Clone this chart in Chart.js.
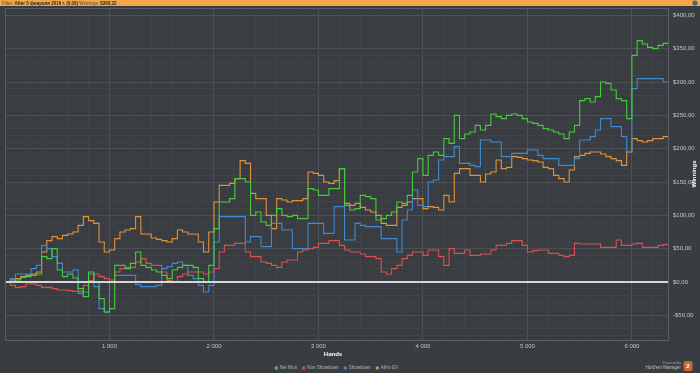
<!DOCTYPE html>
<html lang="en">
<head>
    <meta charset="UTF-8">
    <title>Winnings graph</title>
    <script src="https://cdn.jsdelivr.net/npm/chart.js"></script>
    <style>
        html, body { margin: 0; padding: 0; background: #3a3d41; overflow: hidden; }
        canvas { display: block; }
    </style>
</head>
<body>
    <canvas id="winningsChart" width="700" height="373"></canvas>

    <script>
        // Hands played (x) and cumulative winnings in $ for each line
        const hands = [
            0, 50, 100, 150, 200, 250, 300, 350, 400, 450, 500, 550, 600, 650, 700, 750,
            800, 850, 900, 950, 1000, 1050, 1100, 1150, 1200, 1250, 1300, 1350, 1400, 1450, 1500, 1550,
            1600, 1650, 1700, 1750, 1800, 1850, 1900, 1950, 2000, 2050, 2100, 2150, 2200, 2250, 2300, 2350,
            2400, 2450, 2500, 2550, 2600, 2650, 2700, 2750, 2800, 2850, 2900, 2950, 3000, 3050, 3100, 3150,
            3200, 3250, 3300, 3350, 3400, 3450, 3500, 3550, 3600, 3650, 3700, 3750, 3800, 3850, 3900, 3950,
            4000, 4050, 4100, 4150, 4200, 4250, 4300, 4350, 4400, 4450, 4500, 4550, 4600, 4650, 4700, 4750,
            4800, 4850, 4900, 4950, 5000, 5050, 5100, 5150, 5200, 5250, 5300, 5350, 5400, 5450, 5500, 5550,
            5600, 5650, 5700, 5750, 5800, 5850, 5900, 5950, 6000, 6050, 6100, 6150, 6200, 6250, 6300, 6350
        ];

        const netWon = [
            0, 0, 3, 7, 8, 10, 12, 38, 35, 50, 18, 8, 12, 6, -10, -22,
            15, 0, -25, -45, -40, 25, 25, 20, 28, 45, 25, 22, 18, 15, 10, 5,
            18, 22, 25, 25, 22, 5, 0, 25, 80, 120, 120, 125, 155, 155, 150, 100,
            105, 90, 85, 100, 110, 100, 98, 100, 95, 95, 140, 138, 130, 130, 140, 140,
            170, 115, 108, 110, 130, 128, 125, 93, 95, 100, 105, 120, 118, 130, 165, 185,
            160, 190, 195, 190, 215, 208, 250, 215, 222, 225, 235, 228, 235, 252, 248, 245,
            250, 252, 250, 245, 240, 238, 235, 230, 228, 225, 222, 215, 225, 235, 272, 275,
            270, 278, 300, 298, 288, 275, 272, 245, 340, 362, 357, 352, 350, 355, 358, 360
        ];

        const nonShowdown = [
            0, -5, -8, -7, -3, -3, -5, -8, -8, -10, -12, -12, -13, -14, -14, -5,
            2, 12, 8, 5, 3, 15, 20, 22, 22, 30, 35, 28, 25, 25, 15, 2,
            0, 8, 12, 15, 15, 15, 12, 15, 20, 45, 55, 55, 58, 58, 45, 38,
            38, 30, 28, 25, 22, 30, 33, 33, 45, 48, 50, 52, 58, 58, 62, 62,
            55, 48, 45, 45, 42, 38, 38, 35, 15, 12, 20, 25, 35, 40, 45, 45,
            40, 48, 48, 38, 25, 50, 43, 43, 48, 40, 40, 42, 42, 48, 55, 55,
            58, 62, 62, 55, 45, 47, 48, 48, 43, 43, 40, 38, 40, 58, 57, 57,
            57, 57, 52, 52, 52, 63, 55, 55, 57, 58, 52, 52, 52, 55, 56, 63
        ];

        const showdown = [
            0, 5, 12, 12, 12, 20, 25, 55, 50, 38, 28, 15, 15, 18, -17, -15,
            12, -7, -40, -45, 0, 10, 10, 10, 10, -4, -7, -7, -7, -5, 20, 23,
            28, 30, 25, 10, 5, -5, -15, -5, 60, 98, 98, 98, 98, 98, 60, 68,
            68, 53, 53, 88, 88, 78, 78, 50, 50, 50, 88, 88, 88, 73, 73, 113,
            113, 63, 63, 88, 85, 83, 83, 83, 65, 65, 65, 45, 93, 108, 138, 115,
            113, 150, 153, 183, 188, 188, 203, 178, 178, 175, 173, 213, 213, 210, 210, 188,
            188, 193, 193, 193, 198, 198, 190, 185, 185, 185, 175, 175, 175, 185, 213, 213,
            218, 228, 245, 245, 233, 233, 218, 195, 290, 305, 305, 305, 305, 305, 300, 300
        ];

        const allInEV = [
            0, 3, 5, 8, 10, 12, 15, 45, 62, 68, 65, 70, 72, 75, 85, 98,
            92, 88, 60, 45, 48, 65, 75, 78, 80, 98, 72, 72, 66, 64, 62, 60,
            65, 78, 75, 72, 72, 60, 45, 75, 120, 145, 145, 148, 155, 182, 178, 133,
            125, 125, 100, 80, 125, 123, 120, 122, 122, 125, 165, 163, 160, 150, 148, 152,
            170, 118, 115, 118, 112, 108, 105, 100, 88, 85, 85, 112, 115, 120, 125, 125,
            110, 113, 112, 108, 130, 120, 163, 170, 170, 160, 160, 150, 162, 165, 183, 170,
            172, 188, 187, 185, 183, 182, 180, 172, 170, 160, 155, 150, 168, 188, 190, 193,
            195, 195, 192, 188, 185, 182, 175, 195, 215, 212, 210, 212, 215, 215, 218, 218
        ];

        const seriesNames = ['Net Won', 'Non Showdown', 'Showdown', 'All-In EV'];
        const seriesColors = ['#46cc38', '#d9504c', '#3f8ad0', '#e39238'];
        const handTicks = [1000, 2000, 3000, 4000, 5000, 6000];
        const winTicks = [-50, 0, 50, 100, 150, 200, 250, 300, 350, 400];

        const FONT = "'Liberation Sans', 'DejaVu Sans', sans-serif";
        const BG = '#393c40';
        const GRID_MAJOR = '#4d5054';
        const GRID_MINOR = '#3f4246';

        function fmtHands(v) {
            return String(v).replace(/\B(?=(\d{3})+(?!\d))/g, ' ');
        }
        function fmtMoney(v) {
            return (v < 0 ? '-$' : '$') + Math.abs(v).toFixed(2).replace('.', ',');
        }

        // minor grid every 200 hands / $10
        const xGrid = [];
        for (let h = 200; h <= 6200; h += 200) xGrid.push(h);
        const yGrid = [];
        for (let w = -80; w <= 410; w += 10) yGrid.push(w);

        const toPoints = arr => arr.map((v, i) => ({ x: hands[i], y: v }));
        const seriesData = [netWon, nonShowdown, showdown, allInEV];

        const decor = {
            id: 'decor',
            beforeDraw(chart) {
                const c = chart.ctx;
                c.save();
                c.fillStyle = BG;
                c.fillRect(0, 0, chart.width, chart.height);
                c.restore();
            },
            afterDatasetsDraw(chart) {
                const c = chart.ctx;
                const a = chart.chartArea;
                const y0 = Math.round(chart.scales.y.getPixelForValue(0));
                c.save();
                c.strokeStyle = '#d6d6d6';
                c.lineWidth = 2;
                c.beginPath();
                c.moveTo(a.left, y0);
                c.lineTo(a.right, y0);
                c.stroke();
                c.strokeStyle = '#5b5e62';
                c.lineWidth = 1;
                c.strokeRect(a.left + 0.5, a.top + 0.5, a.right - a.left - 1, a.bottom - a.top);
                c.restore();
            },
            afterDraw(chart) {
                const c = chart.ctx;
                const a = chart.chartArea;
                c.save();

                // filter bar
                c.fillStyle = '#f2a647';
                c.fillRect(0, 0, chart.width, 6);
                c.textBaseline = 'middle';
                let x = 2;
                const parts = [
                    ['Filter: ', false], ['After 5 февраля 2016 г. (0,00) ', true],
                    ['Winnings: ', false], ['$360,32', true]
                ];
                parts.forEach(([t, bold]) => {
                    c.font = (bold ? 'bold ' : '') + '4.5px ' + FONT;
                    c.fillStyle = bold ? '#2a2a2a' : '#4a4a4a';
                    c.fillText(t, x, 3.3);
                    x += c.measureText(t).width;
                });
                c.fillStyle = '#4d6480';
                c.beginPath();
                c.arc(695, 3, 2.6, 0, Math.PI * 2);
                c.fill();

                // axis titles
                c.fillStyle = '#ffffff';
                c.font = 'bold 6px ' + FONT;
                c.textAlign = 'center';
                c.fillText('Hands', (a.left + a.right) / 2 - 4, 354);
                c.save();
                c.translate(694, (a.top + a.bottom) / 2);
                c.rotate(-Math.PI / 2);
                c.fillText('Winnings', 0, 0);
                c.restore();

                // legend
                c.font = '4.5px ' + FONT;
                c.textAlign = 'left';
                const widths = seriesNames.map(n => 5 + c.measureText(n).width + 5);
                const total = widths.reduce((s, w) => s + w, 0);
                let lx = 339 - total / 2;
                seriesNames.forEach((n, i) => {
                    c.fillStyle = seriesColors[i];
                    c.fillRect(lx, 366.5, 3, 3);
                    c.fillStyle = '#b8b8b8';
                    c.fillText(n, lx + 5, 368.2);
                    lx += widths[i];
                });

                // powered by badge
                c.textAlign = 'right';
                c.fillStyle = '#a0a0a0';
                c.font = '3.5px ' + FONT;
                c.fillText('Powered by', 681, 363);
                c.font = '4.5px ' + FONT;
                c.fillStyle = '#c0c0c0';
                c.fillText("Hold'em Manager", 681, 368);
                c.fillStyle = '#d0643a';
                c.beginPath();
                c.roundRect(683.5, 361, 9, 10, 2);
                c.fill();
                c.fillStyle = '#ffffff';
                c.textAlign = 'center';
                c.font = 'bold 6px ' + FONT;
                c.fillText('2', 688, 366.3);
                c.restore();
            }
        };

        new Chart(document.getElementById('winningsChart'), {
            type: 'line',
            data: {
                datasets: seriesNames.map((name, i) => ({
                    label: name,
                    data: toPoints(seriesData[i]),
                    borderColor: seriesColors[i],
                    borderWidth: 1.1,
                    stepped: true,
                    pointRadius: 0,
                    fill: false
                }))
            },
            options: {
                responsive: false,
                animation: false,
                devicePixelRatio: 1,
                layout: { padding: { top: 8, left: 5, right: 0, bottom: 0 } },
                plugins: {
                    legend: { display: false },
                    tooltip: { enabled: false }
                },
                scales: {
                    x: {
                        type: 'linear',
                        min: 0,
                        max: 6355,
                        afterBuildTicks: s => { s.ticks = xGrid.map(v => ({ value: v })); },
                        afterFit: s => { s.height = 33; },
                        border: { display: false },
                        grid: {
                            drawTicks: false,
                            color: ctx => (ctx.tick && handTicks.includes(ctx.tick.value)) ? GRID_MAJOR : GRID_MINOR
                        },
                        ticks: {
                            autoSkip: false,
                            maxRotation: 0,
                            padding: 3,
                            color: '#c4c4c4',
                            font: { size: 6, family: FONT },
                            callback: v => handTicks.includes(v) ? fmtHands(v) : ''
                        }
                    },
                    y: {
                        position: 'right',
                        min: -87,
                        max: 411,
                        afterBuildTicks: s => { s.ticks = yGrid.map(v => ({ value: v })); },
                        afterFit: s => { s.width = 31; },
                        border: { display: false },
                        grid: {
                            drawTicks: false,
                            color: ctx => (ctx.tick && winTicks.includes(ctx.tick.value)) ? GRID_MAJOR : GRID_MINOR
                        },
                        ticks: {
                            autoSkip: false,
                            padding: 4,
                            color: '#c4c4c4',
                            font: { size: 6, family: FONT },
                            callback: v => winTicks.includes(v) ? fmtMoney(v) : ''
                        }
                    }
                }
            },
            plugins: [decor]
        });
    </script>
</body>
</html>
